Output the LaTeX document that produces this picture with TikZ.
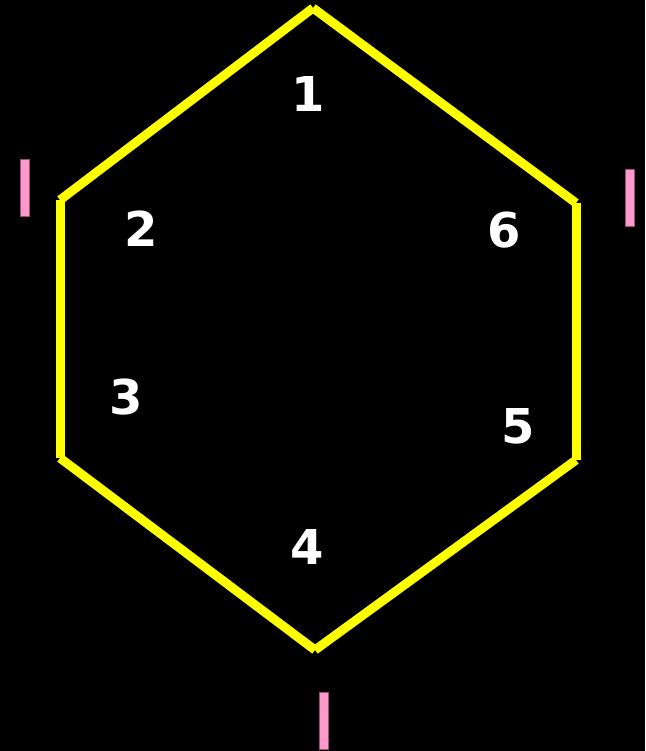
\documentclass[tikz,border=0pt]{standalone}
\usepackage{fontspec}
\setmainfont{DejaVu Sans}
\usepackage{tikz}
\usetikzlibrary{positioning}
\usepackage{xcolor}
\definecolor{hexyellow}{RGB}{255,255,0}
\definecolor{barpink}{RGB}{255,153,204}
\definecolor{barrim}{RGB}{150,80,120}

\begin{document}
\begin{tikzpicture}[x=1pt,y=-1pt,
  side/.style={draw=hexyellow,line width=9pt,line cap=butt},
  num/.style={text=white,font=\fontsize{48}{48}\selectfont\bfseries,inner sep=0pt},
  bar/.style={draw=barrim,line width=0.6pt,fill=barpink,minimum width=9pt,minimum height=57pt,inner sep=0pt}]
\fill[black] (0,0) rectangle (645,751);
\useasboundingbox (0,0) rectangle (645,751);
\coordinate (v1) at (313,8);
\coordinate (v2) at (60,200);
\coordinate (v3) at (60,458);
\coordinate (v4) at (315,650);
\coordinate (v5) at (576,460);
\coordinate (v6) at (576,203);
\draw[side] (v1) -- (v2); \draw[side] (v2) -- (v3); \draw[side] (v3) -- (v4);
\draw[side] (v4) -- (v5); \draw[side] (v5) -- (v6); \draw[side] (v6) -- (v1);
\node[num] (n1) at (308,94) {1};
\node[num] (n2) at (141.5,229) {2};
\node[num] (n3) at (126,397) {3};
\node[num] (n4) at (307.5,547) {4};
\node[num] (n5) at (518.5,426) {5};
\node[num] (n6) at (504,230) {6};
\node[bar] (b1) at (24.5,187.5) {};
\node[bar] (b2) at (630,198) {};
\node[bar] (b3) at (323.5,721) {};
\end{tikzpicture}
\end{document}
